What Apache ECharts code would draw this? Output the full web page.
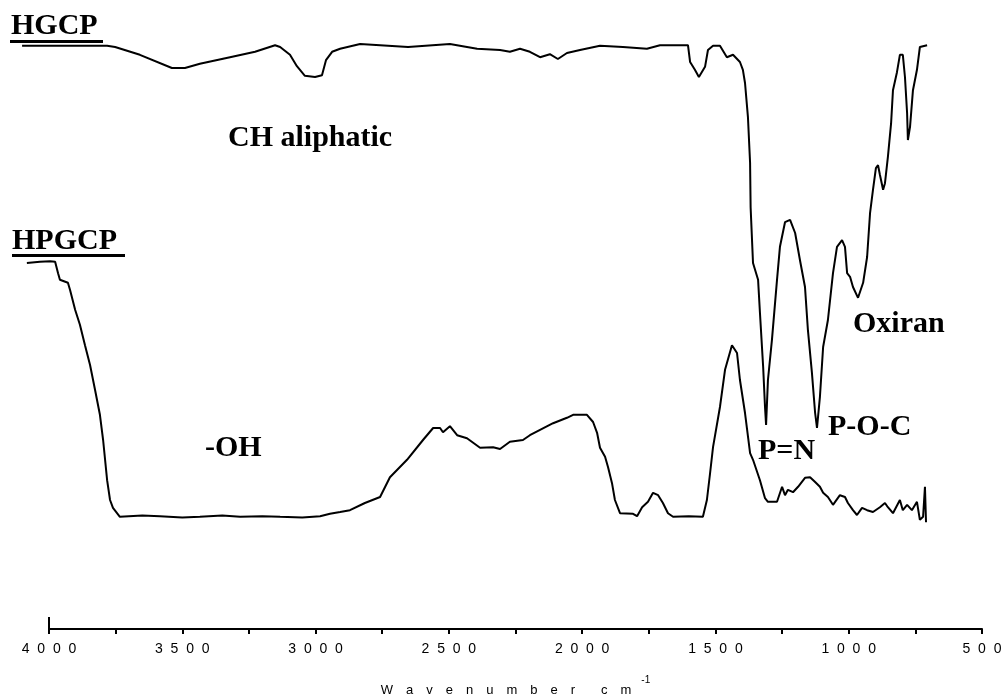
<!DOCTYPE html>
<html>
<head>
<meta charset="utf-8">
<title>FTIR HGCP / HPGCP</title>
<script src="https://cdn.jsdelivr.net/npm/echarts@6/dist/echarts.min.js"></script>
<style>
  html, body { margin: 0; padding: 0; background: #fff; }
  #main { width: 1002px; height: 698px; }
</style>
</head>
<body>
<div id="main"></div>
<script>
// wavenumber (cm-1) and transmittance (%)
var hgcpWave = [4101, 3782, 3752, 3659, 3539, 3490, 3434, 3321, 3227, 3152, 3133, 3096, 3070, 3040, 3002, 2976, 2961, 2938, 2908, 2833,
  2653, 2496, 2432, 2394, 2308, 2271, 2233, 2196, 2158, 2121, 2091, 2057, 2008, 1933, 1847, 1757, 1708, 1603, 1595, 1577,
  1562, 1539, 1528, 1509, 1483, 1457, 1434, 1408, 1397, 1389, 1378, 1370, 1368, 1359, 1340, 1333, 1321, 1314, 1310, 1303,
  1288, 1269, 1258, 1239, 1220, 1201, 1183, 1164, 1153, 1138, 1126, 1119, 1108, 1096, 1078, 1059, 1044, 1025, 1014, 1006,
  995, 984, 965, 946, 931, 920, 909, 898, 890, 883, 871, 864, 853, 841, 834, 819, 808, 797, 789, 781,
  778, 770, 759, 744, 733, 706];
var hgcpT = [97.2, 97.2, 97.0, 95.7, 93.5, 93.5, 94.2, 95.3, 96.2, 97.3, 97.0, 95.7, 93.8, 92.2, 92.0, 92.3, 94.8, 96.2, 96.7, 97.5,
  97.0, 97.5, 97.0, 96.7, 96.5, 96.2, 96.7, 96.2, 95.3, 95.8, 95.0, 96.0, 96.5, 97.2, 97.0, 96.7, 97.3, 97.3, 94.5, 93.2,
  92.0, 93.7, 96.5, 97.2, 97.2, 95.3, 95.7, 94.5, 93.2, 91.0, 85.3, 77.7, 70.3, 61.0, 58.2, 52.7, 43.7, 37.0, 34.0, 41.5,
  48.2, 58.2, 63.7, 67.8, 68.2, 66.0, 61.5, 57.0, 49.8, 42.7, 36.0, 33.5, 38.7, 47.0, 51.5, 59.3, 63.7, 64.8, 63.7, 59.3,
  58.7, 57.0, 55.2, 57.7, 62.0, 69.3, 73.2, 76.8, 77.3, 75.7, 73.2, 74.3, 78.7, 84.3, 89.8, 92.8, 95.7, 95.7, 92.0, 86.0,
  81.5, 83.7, 89.8, 93.2, 97.0, 97.3];

var hpgcpWave = [4083, 4034, 3996, 3977, 3966, 3959, 3929, 3921, 3902, 3884, 3865, 3846, 3827, 3809, 3797, 3782, 3771, 3760, 3734, 3650,
  3584, 3500, 3434, 3350, 3283, 3200, 3133, 3050, 2983, 2946, 2908, 2871, 2815, 2758, 2721, 2657, 2597, 2559, 2533, 2522,
  2496, 2469, 2432, 2383, 2334, 2308, 2271, 2222, 2196, 2158, 2109, 2057, 2034, 1982, 1959, 1944, 1933, 1914, 1903, 1888,
  1877, 1858, 1809, 1794, 1775, 1753, 1734, 1715, 1697, 1678, 1659, 1600, 1547, 1532, 1520, 1509, 1483, 1464, 1438, 1419,
  1408, 1389, 1370, 1359, 1333, 1314, 1303, 1269, 1250, 1239, 1228, 1209, 1190, 1164, 1145, 1126, 1108, 1096, 1078, 1059,
  1033, 1014, 1003, 984, 969, 950, 931, 909, 883, 864, 853, 834, 808, 797, 781, 763, 744, 733, 721, 714,
  710];
var hpgcpT = [61.0, 61.2, 61.3, 61.2, 59.3, 58.2, 57.7, 56.5, 53.2, 50.7, 47.3, 44.0, 39.8, 35.7, 31.5, 24.8, 21.5, 20.2, 18.7, 18.9,
  18.8, 18.6, 18.7, 18.9, 18.7, 18.8, 18.7, 18.6, 18.8, 19.2, 19.5, 19.8, 21.0, 22.0, 25.3, 28.2, 31.5, 33.5, 33.5, 32.8,
  33.8, 32.3, 31.8, 30.2, 30.3, 30.0, 31.2, 31.5, 32.3, 33.2, 34.3, 35.2, 35.7, 35.7, 34.5, 32.7, 30.2, 28.7, 27.0, 24.3,
  21.5, 19.3, 19.2, 18.8, 20.3, 21.2, 22.7, 22.3, 21.0, 19.3, 18.7, 18.8, 18.7, 21.5, 26.0, 30.3, 37.0, 43.2, 47.3, 46.0,
  41.5, 36.0, 29.3, 28.2, 24.8, 21.8, 21.2, 21.2, 23.7, 22.3, 23.2, 22.8, 23.7, 25.2, 25.3, 24.5, 23.7, 22.7, 22.0, 20.7,
  22.3, 22.0, 21.0, 19.8, 19.0, 20.2, 19.8, 19.5, 20.3, 21.0, 20.3, 19.3, 21.5, 19.8, 20.7, 19.8, 21.2, 18.2, 18.7, 23.7,
  17.8];

var tickLabels = ['4000', '3500', '3000', '2500', '2000', '1500', '1000', '500'];

// the traces start a little before 4000, the drawn axis does not
var axisMin = 500, axisMax = 4000, dataMax = 4101;
var plotLeft = 49, plotRight = 20;
var pxPerUnit = (1002 - plotLeft - plotRight) / (axisMax - axisMin);

function zip(xs, ys) {
  var out = [];
  for (var i = 0; i < xs.length; i++) out.push([xs[i], ys[i]]);
  return out;
}

// spaced-out digits like the original plotter font
function spaced(s) {
  return s.split('').join('  ');
}

var labelFont = 'bold 30px "Liberation Serif", "Times New Roman", serif';

function note(txt, x, y) {
  return {
    type: 'text',
    x: x,
    y: y,
    style: { text: txt, font: labelFont, fill: '#000', verticalAlign: 'middle' }
  };
}

var $main = document.getElementById('main');
var chart = echarts.init($main);

var option = {
  backgroundColor: '#fff',
  animation: false,
  grid: [
    // grid 0: data, widened to the left so 4100 cm-1 fits
    { left: plotLeft - (dataMax - axisMax) * pxPerUnit, right: plotRight, top: 29, bottom: 69, outerBoundsMode: 'none', containLabel: false },
    // grid 1: the visible wavenumber axis
    { left: plotLeft, right: plotRight, top: 29, bottom: 69, outerBoundsMode: 'none', containLabel: false }
  ],
  xAxis: [{
    gridIndex: 0,
    type: 'value',
    inverse: true,
    min: axisMin,
    max: dataMax,
    show: false
  }, {
    gridIndex: 1,
    type: 'value',
    inverse: true,
    min: axisMin,
    max: axisMax,
    interval: 250,
    splitLine: { show: false },
    axisLine: { lineStyle: { color: '#000', width: 2 } },
    axisTick: { length: 5, lineStyle: { color: '#000', width: 2 } },
    axisLabel: {
      margin: 13,
      color: '#000',
      fontSize: 14,
      fontFamily: '"Liberation Sans Narrow", "Liberation Sans", Arial',
      formatter: function (v) {
        var s = String(v);
        return tickLabels.indexOf(s) >= 0 ? spaced(s) : '';
      }
    },
    name: '{a|W\u2003a\u2003v\u2003e\u2003n\u2003u\u2003m\u2003b\u2003e\u2003r\u2003\u2003c\u2003m}{s|-1}',
    nameLocation: 'middle',
    nameGap: 46,
    nameTextStyle: {
      rich: {
        a: { fontSize: 13, fontFamily: '"Liberation Sans", Arial', color: '#000', lineHeight: 22, verticalAlign: 'bottom' },
        s: { fontSize: 10, fontFamily: '"Liberation Sans", Arial', color: '#000', verticalAlign: 'top', padding: [0, 0, 0, 10] }
      }
    }
  }, {
    // upward start tick at 4000
    gridIndex: 1,
    type: 'value',
    inverse: true,
    min: axisMin,
    max: axisMax,
    position: 'bottom',
    splitLine: { show: false },
    axisLine: { show: false },
    axisLabel: { show: false },
    axisTick: { inside: true, length: 12, customValues: [4000], lineStyle: { color: '#000', width: 2 } }
  }],
  yAxis: [
    { gridIndex: 0, type: 'value', min: 0, max: 100, show: false },
    { gridIndex: 1, type: 'value', min: 0, max: 100, show: false }
  ],
  series: [{
    name: 'HGCP',
    type: 'line',
    xAxisIndex: 0,
    yAxisIndex: 0,
    data: zip(hgcpWave, hgcpT),
    showSymbol: false,
    lineStyle: { color: '#000', width: 2 }
  }, {
    name: 'HPGCP',
    type: 'line',
    xAxisIndex: 0,
    yAxisIndex: 0,
    data: zip(hpgcpWave, hpgcpT),
    showSymbol: false,
    lineStyle: { color: '#000', width: 2 }
  }],
  graphic: [
    note('HGCP', 11, 26),
    { type: 'rect', shape: { x: 10, y: 40, width: 93, height: 3 }, style: { fill: '#000' } },
    note('HPGCP', 12, 241),
    { type: 'rect', shape: { x: 12, y: 254, width: 113, height: 3 }, style: { fill: '#000' } },
    note('CH aliphatic', 228, 138),
    note('-OH', 205, 448),
    note('Oxiran', 853, 324),
    note('P-O-C', 828, 427),
    note('P=N', 758, 451)
  ]
};

chart.setOption(option);
</script>
</body>
</html>
